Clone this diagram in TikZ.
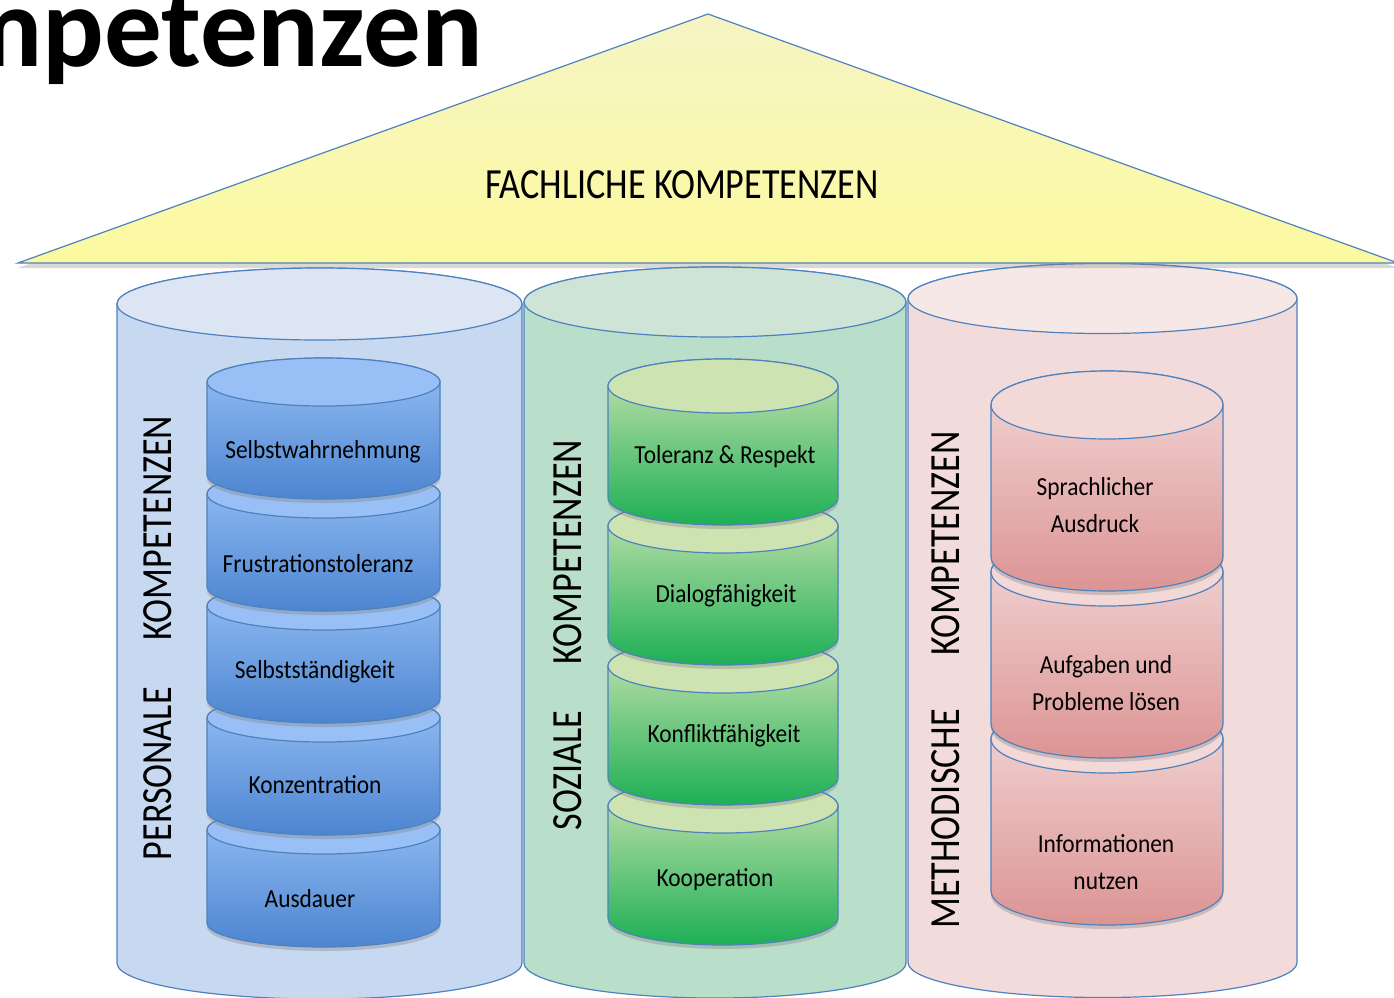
\documentclass[tikz,border=0pt]{standalone}
\usepackage{fontspec}
\setmainfont{Carlito}
\newfontfamily\handfont[FakeStretch=0.9]{Carlito}
\newfontfamily\capsfont[FakeStretch=0.84]{Carlito}
\usetikzlibrary{shadows}

\definecolor{rimblue}{RGB}{79,129,189}
\definecolor{roofA}{RGB}{246,244,196}
\definecolor{roofB}{RGB}{252,250,160}
\definecolor{bluebody}{RGB}{198,217,240}
\definecolor{bluelid}{RGB}{219,229,243}
\definecolor{greenbody}{RGB}{185,222,201}
\definecolor{greenlid}{RGB}{206,228,214}
\definecolor{pinkbody}{RGB}{242,220,219}
\definecolor{pinklid}{RGB}{246,232,231}
\definecolor{bstackA}{RGB}{152,192,246}
\definecolor{bstackB}{RGB}{76,133,208}
\definecolor{gstackA}{RGB}{205,228,178}
\definecolor{gstackB}{RGB}{29,175,85}
\definecolor{pstackA}{RGB}{242,216,215}
\definecolor{pstackB}{RGB}{220,148,148}

\begin{document}
\begin{tikzpicture}[x=1pt, y=-1pt,
  rim/.style={draw=rimblue, line width=1.2pt},
  fall/.style={drop shadow={shadow xshift=0pt, shadow yshift=-4pt, opacity=.35}},
  bluestack/.style={fall, top color=bstackA, bottom color=bstackB},
  greenstack/.style={fall, top color=gstackA, bottom color=gstackB},
  pinkstack/.style={fall, top color=pstackA, bottom color=pstackB},
  label/.style={inner sep=0pt, align=center, font=\handfont\fontsize{26}{37}\selectfont},
  pillar/.style={inner sep=0pt, rotate=90, font=\capsfont\fontsize{43}{50}\selectfont},
  pics/drum/.style n args={5}{code={
    % #1 half width, #2 height, #3 lid radius, #4 body, #5 lid
    \path[rim, #4] (-#1,0) -- (-#1,#2)
      arc[start angle=180, end angle=360, x radius=#1pt, y radius=#3pt]
      -- (#1,0) arc[start angle=0, end angle=180, x radius=#1pt, y radius=#3pt] -- cycle;
    \path[rim, fill=#5] (0,0) ellipse[x radius=#1pt, y radius=#3pt];
  }}]

  \useasboundingbox (0,0) rectangle (1394,997);

  % Pillars
  \pic at (319.5,304) {drum={202.5}{659}{36}{fill=bluebody}{bluelid}};
  \pic at (715,302) {drum={191}{661}{35}{fill=greenbody}{greenlid}};
  \pic at (1102.5,298.5) {drum={194.5}{664}{35}{fill=pinkbody}{pinklid}};

  % First stack
  \pic at (323.5,830) {drum={116.5}{93}{24}{bluestack}{bstackA}};
  \pic at (323.5,718) {drum={116.5}{93}{24}{bluestack}{bstackA}};
  \pic at (323.5,606) {drum={116.5}{93}{24}{bluestack}{bstackA}};
  \pic at (323.5,494) {drum={116.5}{93}{24}{bluestack}{bstackA}};
  \pic at (323.5,382) {drum={116.5}{93}{24}{bluestack}{bstackA}};

  % Second stack
  \pic at (723,806) {drum={115}{112}{27}{greenstack}{gstackA}};
  \pic at (723,666) {drum={115}{112}{27}{greenstack}{gstackA}};
  \pic at (723,526) {drum={115}{112}{27}{greenstack}{gstackA}};
  \pic at (723,386) {drum={115}{112}{27}{greenstack}{gstackA}};

  % Third stack
  \pic at (1107,739) {drum={116}{152}{34}{pinkstack}{pstackA}};
  \pic at (1107,572) {drum={116}{152}{34}{pinkstack}{pstackA}};
  \pic at (1107,405) {drum={116}{152}{34}{pinkstack}{pstackA}};

  % Roof
  \path[rim, top color=roofA, bottom color=roofB,
    drop shadow={shadow xshift=0pt, shadow yshift=-5pt, opacity=.3}]
    (18,263) -- (708,14) -- (1398,263) -- cycle;
  \node[inner sep=0pt, font=\capsfont\fontsize{43}{50}\selectfont] (fach) at (682,185) {FACHLICHE KOMPETENZEN};

  % Title
  \node[anchor=base east, inner sep=0pt, font=\fontsize{115}{120}\selectfont\bfseries] (titel) at (483,66) {Kompetenzen};

  % Pillar labels
  \node[pillar] (personal) at (158,638) {PERSONALE\hspace{47pt}KOMPETENZEN};
  \node[pillar] (sozial) at (568,635) {SOZIALE\hspace{46pt}KOMPETENZEN};
  \node[pillar] (method) at (946,680) {METHODISCHE\hspace{53pt}KOMPETENZEN};

  % Stack labels
  \node[label] (selbst) at (323,452) {Selbstwahrnehmung};
  \node[label] (frust) at (318,564) {Frustrationstoleranz};
  \node[label] (selbststaendig) at (315,672) {Selbstständigkeit};
  \node[label] (konz) at (315,785) {Konzentration};
  \node[label] (ausd) at (310,899) {Ausdauer};

  \node[label] (toleranz) at (725,457) {Toleranz \& Respekt};
  \node[label] (dialog) at (726,596) {Dialogfähigkeit};
  \node[label] (konflikt) at (724,736) {Konfliktfähigkeit};
  \node[label] (koop) at (715,880) {Kooperation};

  \node[label] (sprache) at (1095,505) {Sprachlicher\\Ausdruck};
  \node[label] (aufgaben) at (1106,683) {Aufgaben und\\Probleme lösen};
  \node[label] (info) at (1106,862) {Informationen\\nutzen};

\end{tikzpicture}
\end{document}
